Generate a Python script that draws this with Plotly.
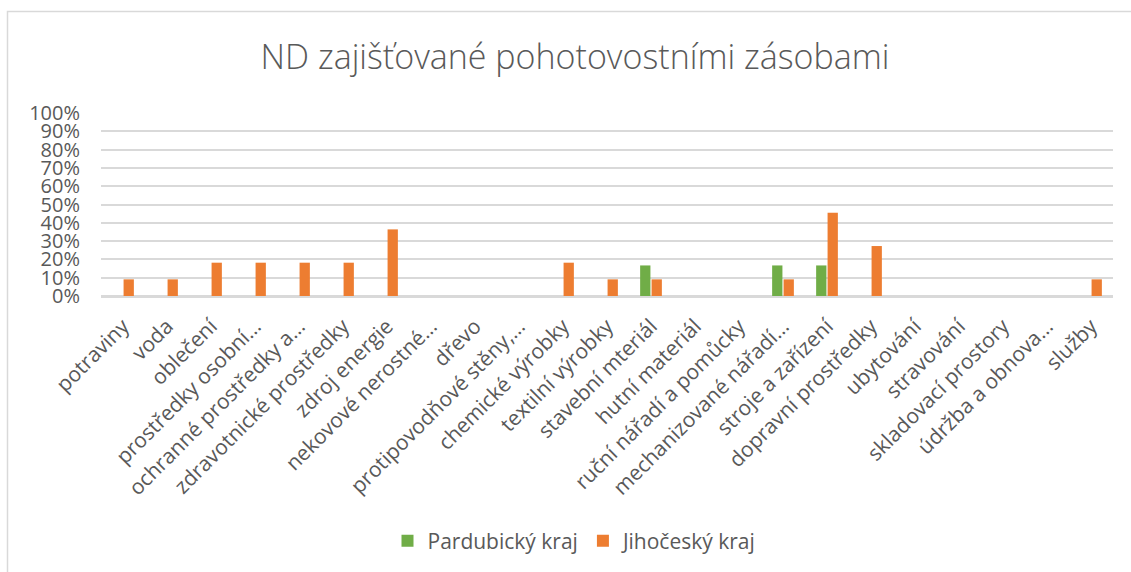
import plotly.graph_objects as go

categories = [
    "potraviny", "voda", "oblečení", "prostředky osobní…", "ochranné prostředky a…",
    "zdravotnické prostředky", "zdroj energie", "nekovové nerostné…", "dřevo",
    "protipovodňové stěny,…", "chemické výrobky", "textilní výrobky", "stavební mteriál",
    "hutní materiál", "ruční nářadí a pomůcky", "mechanizované nářadí…", "stroje a zařízení",
    "dopravní prostředky", "ubytování", "stravování", "skladovací prostory",
    "údržba a obnova…", "služby",
]
pardubicky = [0, 0, 0, 0, 0, 0, 0, 0, 0, 0, 0, 0, 0.167, 0, 0, 0.167, 0.167, 0, 0, 0, 0, 0, 0]
jihocesky = [0.091, 0.091, 0.182, 0.182, 0.182, 0.182, 0.364, 0, 0, 0, 0.182, 0.091, 0.091,
             0, 0, 0.091, 0.455, 0.273, 0, 0, 0, 0, 0.091]
series_names = ["Pardubický kraj", "Jihočeský kraj"]
title_text = "ND zajišťované pohotovostními zásobami"

GREEN = "#70AD47"
ORANGE = "#ED7D31"
TXT = "#595959"
GRID = "#D9D9D9"
FONT = "Open Sans"

fig = go.Figure()
fig.add_trace(go.Bar(x=categories, y=pardubicky, name=series_names[0],
                     marker=dict(color=GREEN, line=dict(width=0))))
fig.add_trace(go.Bar(x=categories, y=jihocesky, name=series_names[1],
                     marker=dict(color=ORANGE, line=dict(width=0))))

W, H = 1131, 572
L, R, T, B = 101, 18, 113, 276
ph = H - T - B
pw = W - L - R

def px_x(p):
    return (p - L) / pw

def px_y(p):
    return (H - B - p) / ph

fig.update_layout(
    width=W, height=H,
    margin=dict(l=L, r=R, t=T, b=B, autoexpand=False),
    paper_bgcolor="white", plot_bgcolor="white",
    font=dict(family=FONT, color=TXT, size=20),
    barmode="group", bargap=0.48, bargroupgap=0.1,
    title=dict(text=title_text, x=575 / W, xref="container", xanchor="center",
               y=1 - 57 / H, yref="container", yanchor="middle",
               font=dict(family=FONT, size=34, color=TXT, weight=300)),
    legend=dict(orientation="h", x=px_x(575), xanchor="center",
                y=px_y(541), yanchor="middle", font=dict(size=21, color=TXT),
                itemwidth=30, traceorder="normal"),
    showlegend=True,
    shapes=[dict(type="rect", xref="paper", yref="paper",
                 x0=px_x(7.5), x1=px_x(W + 10), y0=px_y(H + 10), y1=px_y(11.5),
                 line=dict(color=GRID, width=1.5), fillcolor="rgba(0,0,0,0)", layer="below")],
)
fig.update_yaxes(range=[0, 1], dtick=0.1, tick0=0, tickformat=".0%",
                 showgrid=True, gridcolor=GRID, gridwidth=1.5,
                 zeroline=True, zerolinecolor=GRID, zerolinewidth=1.5,
                 showline=False, ticks="", tickfont=dict(size=20, color=TXT),
                 ticklabelstandoff=20, fixedrange=True)
fig.update_xaxes(tickangle=-45, showgrid=False, showline=True, linecolor=GRID, linewidth=1.5,
                 ticks="", tickfont=dict(size=21, color=TXT), ticklabelstandoff=8,
                 fixedrange=True)

fig.write_html("out.html", config=dict(displayModeBar=False),
               post_script="document.body.style.margin='0';document.body.style.padding='0';")
